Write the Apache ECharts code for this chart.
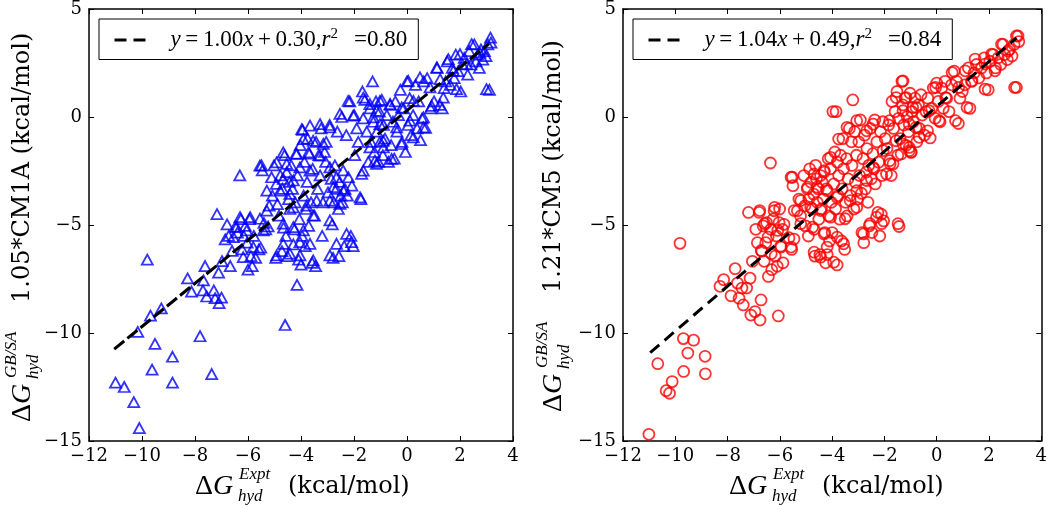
<!DOCTYPE html>
<html>
<head>
<meta charset="utf-8">
<script src="https://cdn.jsdelivr.net/npm/echarts@6/dist/echarts.min.js"></script>
<style>
html,body{margin:0;padding:0;background:#fff;}
#chart{width:1050px;height:505px;}
</style>
</head>
<body>
<div id="chart"></div>
<script>
// ---------- data ----------
const xTicks = [-12, -10, -8, -6, -4, -2, 0, 2, 4];
const yTicks = [-15, -10, -5, 0, 5];

// Left panel: ΔG_expt vs 1.05*CM1A GB/SA (blue triangles)
const cm1aPoints = [
[-11.0,-12.3],[-10.67,-12.5],[-10.31,-13.2],[-10.1,-14.4],[-10.16,-9.95],[-9.8,-6.6],[-9.68,-9.2],[-9.62,-11.7],[-9.51,-10.5],[-9.27,-8.86],[-8.85,-11.1],[-8.85,-12.3],[-8.28,-7.47],[-8.13,-8.08],[-7.81,-10.15],[-7.62,-6.9],[-7.68,-7.56],[-7.7,-8.03],[-7.56,-8.31],[-7.37,-11.9],[-7.29,-8.03],[-7.24,-8.39],[-7.17,-4.5],[-7.11,-7.2],[-7.09,-8.62],[-7.0,-8.36],[-6.98,-6.67],[-6.86,-5.67],[-6.79,-4.97],[-6.73,-5.5],[-6.67,-6.9],[-6.6,-6.2],[-6.48,-5.07],[-6.4,-5.35],[-6.31,-2.7],[-6.27,-4.73],[-6.22,-6.13],[-6.16,-5.5],[-6.1,-5.04],[-6.03,-5.82],[-6.0,-7.07],[-5.94,-4.73],[-5.89,-6.44],[-5.84,-6.9],[-5.78,-5.5],[-5.71,-6.52],[-5.59,-6.13],[-5.52,-6.05],[-5.49,-2.24],[-5.46,-2.47],[-5.4,-4.9],[-5.33,-5.2],[-5.24,-5.07],[-5.2,-4.1],[-5.08,-3.64],[-5.02,-2.24],[-4.95,-6.52],[-4.93,-3.1],[-4.89,-4.03],[-4.83,-4.57],[-4.78,-2.7],[-4.72,-6.21],[-4.7,-3.33],[-4.66,-5.12],[-4.62,-1.77],[-4.6,-9.63],[-4.57,-5.5],[-4.54,-2.55],[-4.51,-6.44],[-4.47,-3.8],[-4.44,-3.0],[-4.42,-4.26],[-4.37,-2.24],[-4.32,-3.33],[-4.29,-5.9],[-4.25,-5.2],[-4.22,-3.95],[-4.19,-1.7],[-4.15,-7.77],[-4.13,-2.7],[-4.09,-6.6],[-4.06,-4.73],[-4.03,-1.3],[-4.0,-6.83],[-3.96,-5.5],[-3.94,-0.6],[-3.9,-3.64],[-3.87,-2.08],[-3.84,-5.98],[-3.81,-4.26],[-3.77,-3.0],[-3.75,-1.0],[-3.71,-5.04],[-3.68,-1.7],[-3.62,-3.95],[-3.58,-6.75],[-3.56,-2.4],[-3.49,-4.57],[-3.45,-6.9],[-3.43,-1.15],[-3.37,-3.33],[-3.33,-1.77],[-3.28,-2.7],[-3.24,-0.53],[-3.2,-5.5],[-3.17,-3.95],[-3.11,-1.62],[-3.07,-2.08],[-3.05,-1.15],[-2.98,-3.49],[-2.92,-0.37],[-2.86,-2.86],[-2.82,-4.97],[-2.79,-6.52],[-2.76,-3.95],[-2.72,-2.24],[-2.67,-3.33],[-2.63,-0.68],[-2.59,-4.26],[-2.57,-6.44],[-2.54,-3.0],[-2.5,-3.64],[-2.46,0.0],[-2.44,-3.95],[-2.41,-2.47],[-2.37,-5.98],[-2.34,-3.33],[-2.29,-0.84],[-2.25,-3.64],[-2.21,-2.79],[-2.16,0.72],[-2.12,-5.5],[-2.08,-3.18],[-2.03,-5.98],[-1.99,0.09],[-1.97,-1.77],[-1.9,-0.53],[-1.84,-1.15],[-1.74,-3.8],[-1.71,-2.63],[-1.68,1.18],[-1.65,-0.06],[-1.59,0.79],[-1.52,-0.68],[-1.46,-2.08],[-1.4,0.4],[-1.36,-1.15],[-1.3,1.65],[-1.27,-0.22],[-1.23,-1.62],[-1.17,0.72],[-1.14,-0.68],[-1.08,-2.08],[-1.04,0.25],[-1.02,-1.15],[-0.95,0.79],[-0.91,-1.77],[-0.89,-0.37],[-0.83,-1.0],[-0.76,0.09],[-0.7,-2.08],[-0.63,0.56],[-0.6,-1.3],[-0.53,-0.22],[-0.48,-1.93],[-0.44,0.72],[-0.38,-0.68],[-0.32,0.09],[-0.25,1.26],[-0.19,-1.15],[-0.13,0.4],[-0.06,-1.62],[0.0,1.65],[0.04,-0.37],[0.1,0.87],[0.15,-0.84],[0.23,0.09],[0.32,1.49],[0.38,-0.53],[0.44,0.72],[0.51,-1.07],[0.57,-0.06],[0.63,1.65],[0.7,-0.5],[0.76,1.8],[0.89,0.4],[1.02,0.72],[1.14,2.27],[1.24,0.56],[1.33,0.4],[1.4,1.34],[1.46,1.65],[1.52,2.58],[1.63,1.49],[1.71,2.27],[1.78,1.8],[1.84,2.89],[1.93,2.12],[2.03,1.18],[2.1,2.43],[2.16,2.74],[2.29,1.96],[2.35,3.05],[2.41,2.43],[2.54,3.36],[2.6,2.58],[2.67,2.89],[2.73,2.27],[2.79,3.13],[2.86,2.66],[2.92,3.05],[2.98,2.82],[3.05,3.36],[3.11,1.26],[3.15,3.67],[3.17,3.44],
[-2.22,0.75],[-1.65,0.9],[-1.4,0.6],[-2.53,0.14],[-2.03,0.06],[-3.97,-0.56],[-3.66,-0.4],[-3.28,-0.33],[-2.91,-0.48],[-3.91,-1.02],[-3.54,-1.1],[-3.16,-1.25],[-4.67,-1.64],[-4.16,-1.71],[-3.72,-1.64],[-3.28,-1.79],[-4.92,-2.1],[-4.54,-2.17],[-4.04,-2.33],[-3.66,-2.48],[-5.55,-2.25],[-5.11,-2.79],[-4.67,-2.87],[-4.29,-2.94],[-4.79,-3.41],[-4.42,-3.56],[-5.29,-3.41],[-2.91,-2.33],[-2.66,-2.79],[-2.78,-3.25],[-2.4,-3.41],[-2.91,-3.87],[-2.53,-4.02],[-3.41,-3.87],[-3.79,-4.1],[-4.29,-4.18],[-1.77,-3.72],[-1.65,-2.48],[-1.15,-2.17],[-1.4,-1.41],[-0.9,-1.1],[-1.02,-0.33],[-1.15,0.29],[-5.29,-4.33],[-5.92,-4.64],[-6.3,-4.64],[-6.43,-5.1],[-6.05,-5.25],[-5.55,-4.71],[-5.42,-5.25],[-4.67,-4.94],[-4.29,-5.1],[-3.91,-5.25],[-3.54,-4.56],[-2.91,-4.79],[-2.28,-5.41],[-2.09,-5.79],[-2.66,-5.87],[-2.91,-6.41],[-3.54,-6.64],[-4.04,-6.41],[-4.42,-6.33],[-4.92,-6.41],[-4.67,-5.87],[-4.04,-5.79],[-3.66,-5.87],[-5.8,-6.02],[-6.18,-6.49],[-6.55,-5.56],
[2.44,3.37],[2.75,2.98],[2.0,2.91],[1.56,2.68],[2.25,2.45],[1.12,2.29],[1.75,2.14],[1.25,1.75],[0.49,1.83],[0.05,1.67],[1.87,1.29],[0.87,1.37],[3.0,1.29],[1.37,0.9],[0.93,0.52],[0.24,0.75],[-0.2,0.44],[-0.64,0.6],[-1.02,0.75],[0.62,-0.02],[0.62,-0.48],[0.11,-0.17],[-0.39,-0.48],[0.24,-0.94],[-0.2,-1.25],[-0.58,-1.94],[-0.89,-1.41],[-1.21,-2.02],[-1.27,-0.02]
];

// Right panel: ΔG_expt vs 1.21*CM5 GB/SA (red circles)
const cm5Points = [
[-11.01,-14.69],[-10.67,-11.42],[-10.35,-12.67],[-10.22,-12.79],[-10.12,-12.25],[-9.82,-5.85],[-9.69,-10.26],[-9.68,-11.78],[-9.52,-10.93],[-9.3,-10.33],[-8.86,-11.08],[-8.85,-11.89],[-8.29,-7.84],[-8.15,-7.53],[-7.87,-8.28],[-7.71,-7.02],[-7.62,-7.69],[-7.56,-8.39],[-7.45,-7.92],[-7.4,-8.7],[-7.27,-7.92],[-7.2,-4.42],[-7.14,-7.46],[-7.11,-9.17],[-7.05,-6.68],[-6.95,-9.01],[-6.92,-5.2],[-6.86,-5.82],[-6.79,-4.42],[-6.76,-9.4],[-6.72,-8.47],[-6.69,-6.21],[-6.64,-5.04],[-6.6,-6.68],[-6.54,-5.82],[-6.51,-4.89],[-6.44,-7.38],[-6.36,-2.13],[-6.35,-5.2],[-6.31,-7.07],[-6.26,-4.73],[-6.22,-4.34],[-6.18,-6.44],[-6.13,-5.51],[-6.1,-6.91],[-6.06,-9.21],[-6.03,-4.89],[-6.01,-4.26],[-5.97,-5.98],[-5.9,-5.2],[-5.88,-6.75],[-5.84,-4.97],[-5.65,-5.59],[-5.55,-6.13],[-5.52,-2.79],[-5.5,-3.18],[-5.46,-5.65],[-5.33,-4.34],[-5.27,-3.8],[-5.21,-4.58],[-5.08,-2.71],[-5.04,-4.11],[-5.02,-5.04],[-4.95,-3.33],[-4.91,-5.51],[-4.89,-3.8],[-4.86,-2.4],[-4.81,-3.02],[-4.76,-4.26],[-4.71,-3.57],[-4.69,-5.2],[-4.66,-6.44],[-4.63,-2.24],[-4.6,-2.86],[-4.57,-3.95],[-4.53,-3.33],[-4.51,-4.73],[-4.47,-6.37],[-4.44,-2.71],[-4.41,-4.26],[-4.38,-3.02],[-4.34,-3.8],[-4.3,-2.55],[-4.28,-5.35],[-4.25,-6.75],[-4.22,-3.33],[-4.19,-6.37],[-4.15,-1.93],[-4.13,-4.58],[-4.1,-5.74],[-4.06,-2.4],[-4.03,-3.95],[-4.0,-5.35],[-3.97,0.25],[-3.94,-3.1],[-3.9,-1.62],[-3.87,-4.26],[-3.85,0.25],[-3.81,-6.85],[-3.8,-2.09],[-3.77,-3.64],[-3.75,-2.71],[-3.71,-4.73],[-3.68,-1.77],[-3.64,-5.74],[-3.62,-3.33],[-3.59,-1.0],[-3.56,-2.4],[-3.52,-6.13],[-3.49,-3.95],[-3.45,-1.93],[-3.43,-4.58],[-3.39,-2.86],[-3.34,-0.53],[-3.3,-3.64],[-3.26,-1.15],[-3.24,-2.24],[-3.21,0.79],[-3.17,-4.26],[-3.14,-0.68],[-3.11,-3.02],[-3.07,-1.77],[-3.03,-3.8],[-2.98,-1.15],[-2.95,-2.71],[-2.92,-0.14],[-2.88,-3.53],[-2.86,-5.35],[-2.82,-1.93],[-2.79,-5.82],[-2.76,-0.84],[-2.73,-3.33],[-2.69,-2.55],[-2.67,-1.46],[-2.63,-3.95],[-2.6,-2.24],[-2.58,-5.04],[-2.54,-0.53],[-2.5,-2.86],[-2.48,-5.35],[-2.44,-1.7],[-2.4,-2.4],[-2.37,-0.14],[-2.35,-3.1],[-2.29,-1.15],[-2.25,-4.42],[-2.22,-2.09],[-2.18,-5.51],[-2.15,-0.68],[-2.12,-4.5],[-2.1,-2.71],[-2.06,-0.22],[-2.03,-4.81],[-1.97,-1.0],[-1.9,-1.46],[-1.84,-0.37],[-1.78,-2.16],[-1.74,-2.71],[-1.71,0.72],[-1.65,-0.53],[-1.59,0.25],[-1.52,1.18],[-1.49,-1.77],[-1.46,-0.06],[-1.44,-5.07],[-1.4,-1.0],[-1.33,1.65],[-1.3,0.56],[-1.26,-0.37],[-1.21,0.87],[-1.17,-1.31],[-1.13,0.02],[-1.08,-0.68],[-1.02,1.1],[-0.98,-1.62],[-0.95,0.25],[-0.89,-0.22],[-0.83,0.87],[-0.76,-1.15],[-0.7,0.56],[-0.66,-0.53],[-0.6,1.03],[-0.55,0.09],[-0.47,-0.84],[-0.41,0.25],[-0.34,0.87],[-0.25,-0.97],[-0.19,0.4],[-0.13,1.34],[-0.06,-0.06],[0.0,1.57],[0.06,0.72],[0.13,-0.22],[0.19,1.34],[0.25,0.4],[0.32,1.65],[0.38,0.87],[0.47,0.25],[0.57,1.49],[0.67,2.12],[0.76,1.65],[0.83,-0.3],[0.89,0.87],[0.98,1.18],[1.08,1.49],[1.21,2.27],[1.27,0.4],[1.33,1.65],[1.43,2.04],[1.52,2.43],[1.61,1.81],[1.71,2.27],[1.82,2.74],[1.9,2.04],[1.97,1.26],[2.03,2.58],[2.16,2.89],[2.25,2.27],[2.35,2.74],[2.45,2.43],[2.54,3.36],[2.6,2.89],[2.7,2.66],[2.79,3.13],[2.88,2.82],[2.96,3.36],[3.05,1.37],[3.11,3.75],[3.14,3.49],
[-3.06,-0.17],[-2.68,-0.64],[-3.43,-0.48],[-3.75,-1.02],[-2.43,-0.33],[-1.8,-0.17],[-1.55,0.9],[-1.29,0.29],[-1.05,-0.33],[-1.55,-1.1],[-1.05,-1.56],[-1.8,-2.02],[-2.43,-2.33],[-2.68,-2.94],[-3.06,-3.41],[-3.31,-3.87],[-3.06,-4.18],[-3.5,-4.71],[-4.06,-1.87],[-4.31,-2.48],[-4.69,-2.64],[-4.94,-3.25],[-4.57,-3.25],[-4.19,-3.41],[-3.81,-3.72],[-5.2,-3.87],[-5.45,-4.33],[-4.82,-4.18],[-4.44,-4.33],[-4.06,-4.64],[-5.57,-2.79],[-5.2,-4.94],[-4.75,-5.1],[-4.31,-5.41],[-3.81,-5.56],[-3.56,-5.87],[-4.19,-6.02],[-4.69,-6.26],[-4.44,-6.49],[-3.94,-6.72],[-6.77,-4.33],[-6.2,-4.18],[-6.58,-4.94],[-6.08,-5.25],[-6.45,-5.56],[-5.57,-6.02],[-5.95,-6.02],[-6.33,-6.33],[-6.71,-6.18],[-2.8,-5.41],[-2.3,-4.64],[-2.11,-4.94],[-2.55,-4.94],[-1.48,-4.94],[-1.92,-2.64],[-1.67,-2.17],[-2.05,-1.56],[-1.29,-1.25],[-0.92,0.44],
[3.05,3.75],[2.48,3.37],[2.1,2.91],[2.73,3.06],[1.47,2.68],[1.85,2.45],[2.23,2.14],[1.09,2.14],[0.59,2.06],[1.35,1.67],[0.84,1.37],[1.85,1.29],[2.98,1.37],[-0.04,1.37],[0.34,0.9],[1.16,0.44],[0.72,-0.17],[-0.29,0.29],[-0.79,0.44],[-1.17,0.9],[-1.29,1.67],[0.09,-0.17],[-0.35,-0.64],[-0.79,-0.48],[-0.67,-0.94],[-1.05,-1.41],[-1.36,-1.71],[-0.98,-1.64]
];

// Regression lines (end points)
const fitLineCM1A = [[-11.05, -10.75], [3.1, 3.4]];
const fitLineCM5  = [[-10.96, -10.91], [3.05, 3.66]];
const fitTextCM1A = {slope: '1.00', intercept: '0.30', r2: '0.80'};
const fitTextCM5  = {slope: '1.04', intercept: '0.49', r2: '0.84'};
const yLabelCM1A = '1.05*CM1A (kcal/mol)';
const yLabelCM5  = '1.21*CM5 (kcal/mol)';

// ---------- chart ----------
const chart = echarts.init(document.getElementById('chart'), null, {renderer: 'canvas'});
const SERIF = 'DejaVu Serif';
const MATH = 'Liberation Serif';
const minus = v => (v < 0 ? '\u2212' + Math.abs(v) : String(v));

function xAxesFor(gi) {
  const base = {
    gridIndex: gi, type: 'value',
    min: xTicks[0], max: xTicks[xTicks.length - 1], interval: xTicks[1] - xTicks[0],
    axisLine: {show: true, onZero: false, lineStyle: {color: '#000', width: 1.5}},
    axisTick: {show: true, inside: true, length: 5, lineStyle: {color: '#000', width: 1}},
    splitLine: {show: false}
  };
  return [
    Object.assign({}, base, {position: 'bottom',
      axisLabel: {show: true, color: '#000', fontFamily: SERIF, fontSize: 18, margin: 6, formatter: minus}}),
    Object.assign({}, base, {position: 'top', axisLabel: {show: false}})
  ];
}
function yAxesFor(gi) {
  const base = {
    gridIndex: gi, type: 'value',
    min: yTicks[0], max: yTicks[yTicks.length - 1], interval: yTicks[1] - yTicks[0],
    axisLine: {show: true, onZero: false, lineStyle: {color: '#000', width: 1.5}},
    axisTick: {show: true, inside: true, length: 5, lineStyle: {color: '#000', width: 1}},
    splitLine: {show: false}
  };
  return [
    Object.assign({}, base, {position: 'left',
      axisLabel: {show: true, color: '#000', fontFamily: SERIF, fontSize: 18, margin: 7, formatter: minus}}),
    Object.assign({}, base, {position: 'right', axisLabel: {show: false}})
  ];
}

const legendRich = {
  g: {width: 20},
  i: {fontFamily: MATH, fontStyle: 'italic', fontSize: 23, lineHeight: 26, color: '#000'},
  n: {fontFamily: MATH, fontSize: 23, lineHeight: 26, color: '#000'},
  s: {fontFamily: MATH, fontSize: 15, lineHeight: 14, verticalAlign: 'top', color: '#000'}
};
function legendText(f) {
  return '{g| }{i|y}{n|\u2009=\u2009' + f.slope + '}{i|x}{n|\u2009+\u2009' + f.intercept +
         ',}{i|r}{s|2}{n|\u2002\u2009=' + f.r2 + '}';
}
function legendFor(name, left, f) {
  return {
    data: [name], left: left, top: 19, orient: 'horizontal',
    padding: [8, 11, 8, 14], borderColor: '#000', borderWidth: 1, backgroundColor: '#fff',
    itemWidth: 31, itemHeight: 14, selectedMode: false,
    lineStyle: {color: '#000', width: 3, type: [12, 7]},
    itemStyle: {opacity: 0},
    formatter: () => legendText(f),
    textStyle: {rich: legendRich}
  };
}

function xTitle(dx) {
  return [
    {type: 'text', x: 195 + dx, y: 487, silent: true,
     style: {text: '{d|Δ}{g|G}', verticalAlign: 'middle',
       rich: {d: {fontFamily: MATH, fontSize: 28, fill: '#000'}, g: {fontFamily: MATH, fontStyle: 'italic', fontSize: 28, fill: '#000'}}}},
    {type: 'text', x: 239 + dx, y: 475, silent: true,
     style: {text: 'Expt', fontFamily: MATH, fontStyle: 'italic', fontSize: 17, fill: '#000', verticalAlign: 'middle'}},
    {type: 'text', x: 238 + dx, y: 497, silent: true,
     style: {text: 'hyd', fontFamily: MATH, fontStyle: 'italic', fontSize: 17, fill: '#000', verticalAlign: 'middle'}},
    {type: 'text', x: 288 + dx, y: 487, silent: true,
     style: {text: '(kcal/mol)', fontFamily: SERIF, fontSize: 24, fill: '#000', verticalAlign: 'middle'}}
  ];
}
function yTitle(x0, y0, label) {
  return {
    type: 'group', x: x0, y: y0, rotation: Math.PI / 2, silent: true,
    children: [
      {type: 'text', x: 0, y: 0,
       style: {text: '{d|Δ}{g|G}', verticalAlign: 'middle',
         rich: {d: {fontFamily: MATH, fontSize: 28, fill: '#000'}, g: {fontFamily: MATH, fontStyle: 'italic', fontSize: 28, fill: '#000'}}}},
      {type: 'text', x: 44, y: -11,
       style: {text: 'GB/SA', fontFamily: MATH, fontStyle: 'italic', fontSize: 17, fill: '#000', verticalAlign: 'middle'}},
      {type: 'text', x: 43, y: 11,
       style: {text: 'hyd', fontFamily: MATH, fontStyle: 'italic', fontSize: 17, fill: '#000', verticalAlign: 'middle'}},
      {type: 'text', x: 119, y: 0,
       style: {text: label, fontFamily: SERIF, fontSize: 24, fill: '#000', verticalAlign: 'middle'}}
    ]
  };
}

const option = {
  animation: false,
  backgroundColor: '#fff',
  grid: [
    {left: 89, top: 8, width: 424, height: 433},
    {left: 623, top: 8, width: 424, height: 433}
  ],
  xAxis: xAxesFor(0).concat(xAxesFor(1)),
  yAxis: yAxesFor(0).concat(yAxesFor(1)),
  legend: [legendFor('fitCM1A', 99, fitTextCM1A), legendFor('fitCM5', 633, fitTextCM5)],
  series: [
    {type: 'scatter', name: 'CM1A', xAxisIndex: 0, yAxisIndex: 0, data: cm1aPoints,
     symbol: 'triangle', symbolSize: [11, 10], silent: true, z: 2,
     itemStyle: {color: 'rgba(0,0,0,0)', borderColor: '#0000ff', borderWidth: 1.8}},
    {type: 'line', name: 'fitCM1A', xAxisIndex: 0, yAxisIndex: 0, data: fitLineCM1A,
     symbol: 'none', silent: true, z: 3,
     lineStyle: {color: '#000', width: 3, type: [13, 4]}},
    {type: 'scatter', name: 'CM5', xAxisIndex: 2, yAxisIndex: 2, data: cm5Points,
     symbol: 'circle', symbolSize: 11, silent: true, z: 2,
     itemStyle: {color: 'rgba(0,0,0,0)', borderColor: '#ff0000', borderWidth: 1.8}},
    {type: 'line', name: 'fitCM5', xAxisIndex: 2, yAxisIndex: 2, data: fitLineCM5,
     symbol: 'none', silent: true, z: 3,
     lineStyle: {color: '#000', width: 3, type: [12, 7]}}
  ],
  graphic: [].concat(
    xTitle(0), xTitle(534),
    [yTitle(23, 422, yLabelCM1A), yTitle(554, 412, yLabelCM5)]
  )
};
chart.setOption(option);
</script>
</body>
</html>
